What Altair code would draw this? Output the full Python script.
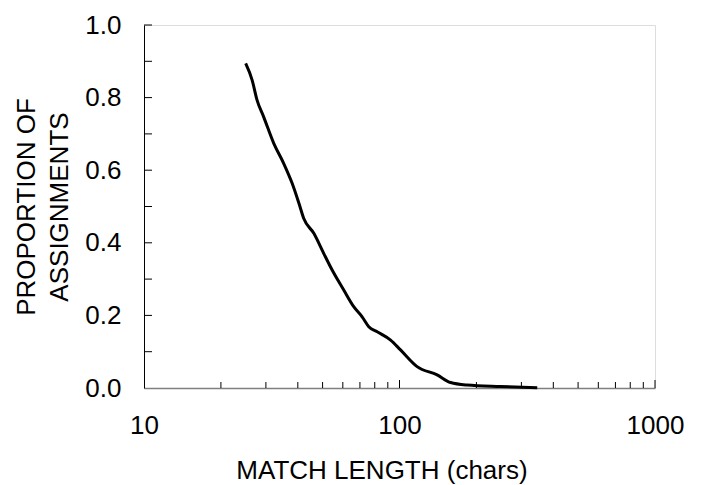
import altair as alt
import pandas as pd

# Curve
lengths = [25, 26.5, 27.7, 29.4, 32.2, 35.2, 38.0, 40.4, 42.2, 46.2, 50.5, 54.5,
           60.5, 66.2, 71.4, 75.8, 81.8, 92.3, 100.9, 117.2, 140.4, 158.5, 184,
           248, 346]
props = [0.894, 0.848, 0.793, 0.747, 0.674, 0.619, 0.564, 0.509, 0.467, 0.426,
         0.371, 0.325, 0.270, 0.224, 0.196, 0.169, 0.155, 0.132, 0.105, 0.059,
         0.036, 0.015, 0.008, 0.004, 0.001]

x_labels = [10, 100, 1000]
x_minor = [20, 30, 40, 50, 60, 70, 80, 90, 200, 300, 400, 500, 600, 700, 800, 900]
x_major = [100, 1000]
y_labels = [0.0, 0.2, 0.4, 0.6, 0.8, 1.0]
y_ticks = [0.1, 0.2, 0.3, 0.4, 0.5, 0.6, 0.7, 0.8, 0.9, 1.0]

W, H = 511, 363
FONT = "Liberation Sans"

xscale = alt.Scale(type="log", domain=[10, 1000], nice=False)
yscale = alt.Scale(domain=[0, 1], nice=False, zero=False)

xaxis = alt.Axis(
    values=x_labels, format="d", ticks=False, tickSize=0, grid=False,
    domainColor="#7f7f7f", domainWidth=1.5, labelFont=FONT, labelFontSize=26,
    labelColor="black", labelPadding=24, labelFlush=False,
    title="MATCH LENGTH (chars)", titleFont=FONT, titleFontSize=26,
    titleFontWeight="normal", titleColor="black", titleX=237.5, titleY=90,
    titleBaseline="alphabetic", titleAlign="center", titleAnchor="start",
)
yaxis = alt.Axis(
    values=y_labels, format=".1f", ticks=False, tickSize=0, grid=False,
    domainColor="black", domainWidth=1, labelFont=FONT, labelFontSize=26,
    labelColor="black", labelPadding=23, labelFlush=False,
    title=["PROPORTION OF", "ASSIGNMENTS"], titleFont=FONT, titleFontSize=26,
    titleFontWeight="normal", titleColor="black", titleLineHeight=33,
    titlePadding=12,
)

X = lambda: alt.X("x:Q", scale=xscale, axis=xaxis)
Y = lambda: alt.Y("y:Q", scale=yscale, axis=yaxis)

curve = pd.DataFrame({"x": lengths, "y": props})
line = alt.Chart(curve).mark_line(color="black", strokeWidth=3, interpolate="monotone").encode(x=X(), y=Y())

xminor = alt.Chart(pd.DataFrame({"x": x_minor})).mark_rule(color="black", strokeWidth=1).encode(
    x=X(), y=alt.value(H), y2=alt.value(H - 6))
xmajor = alt.Chart(pd.DataFrame({"x": x_major})).mark_rule(color="black", strokeWidth=1).encode(
    x=X(), y=alt.value(H), y2=alt.value(H - 8))
yt = alt.Chart(pd.DataFrame({"y": y_ticks})).mark_rule(color="black", strokeWidth=1).encode(
    y=Y(), x=alt.value(0), x2=alt.value(8))

chart = alt.layer(xminor, xmajor, yt, line).properties(
    width=W, height=H,
    autosize=alt.AutoSizeParams(type="none"),
    padding={"left": 136, "top": 17, "right": 40, "bottom": 96},
).configure_view(stroke=None).configure(background="white")

chart.save("out.html", embed_options={"renderer": "svg", "actions": False})
